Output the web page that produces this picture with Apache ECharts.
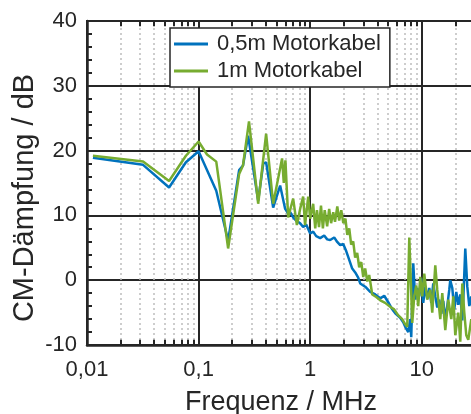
<!DOCTYPE html>
<html>
<head>
<meta charset="utf-8">
<title>CM-Dämpfung</title>
<script src="https://cdn.jsdelivr.net/npm/echarts@6/dist/echarts.min.js"></script>
<style>
  html, body { margin: 0; padding: 0; background: #fff; }
  #chart { width: 471px; height: 414px; }
</style>
</head>
<body>
<div id="chart"></div>
<script>
// 0,5m Motorkabel: Frequenz (MHz) / Dämpfung (dB)
const freqShort = [0.0113, 0.0318, 0.0544, 0.077, 0.1, 0.144, 0.184, 0.231, 0.25, 0.278,
  0.342, 0.38, 0.403, 0.466, 0.538, 0.597, 0.635, 0.662, 0.704, 0.749,
  0.813, 0.865, 0.921, 1.0, 1.064, 1.132, 1.229, 1.335, 1.421, 1.511,
  1.642, 1.747, 1.858, 1.977, 2.103, 2.192, 2.381, 2.533, 2.694, 2.808,
  3.114, 3.453, 3.828, 4.245, 4.61, 5.008, 5.438, 5.785, 6.414, 6.825,
  7.112, 7.568, 7.887, 8.05, 8.39, 8.74, 9.11, 9.5, 9.9, 10.31,
  10.75, 11.2, 11.68, 12.17, 12.68, 13.22, 13.77, 14.35, 14.96, 15.59,
  16.25, 16.93, 17.64, 18.01, 18.77, 19.56, 20.39, 21.25, 22.14, 23.08,
  23.56, 24.55, 25.59, 26.67, 27.79, 28.96];
const dampShort = [18.9, 17.8, 14.3, 18.2, 19.9, 13.8, 6.1, 17.0, 17.7, 22.3,
  12.3, 18.0, 18.2, 11.2, 14.6, 11.0, 10.3, 10.5, 9.7, 9.2,
  8.8, 8.2, 8.6, 7.2, 7.5, 6.8, 6.5, 6.9, 6.3, 6.2,
  6.6, 5.9, 5.4, 5.6, 4.5, 3.6, 1.8, 1.2, 0.4, -0.5,
  -1.0, -1.8, -2.2, -2.8, -2.4, -3.4, -4.5, -5.1, -5.8, -6.5,
  -7.2, -8.0, -6.0, -8.8, 2.6, -3.0, -1.2, -2.5, 0.3, -3.5,
  -1.0, -2.8, -1.2, -3.5, -0.5, -2.5, -4.2, -3.0, -5.2, -3.2,
  -6.0, -4.0, -1.5, 0.0, -1.2, -4.5, -1.8, -3.8, -2.2, -6.2,
  -3.0, 4.9, -1.0, -4.0, -2.5, -5.5];

// 1m Motorkabel
const freqLong = [0.0113, 0.0318, 0.0544, 0.077, 0.1, 0.119, 0.144, 0.184, 0.231, 0.25,
  0.283, 0.342, 0.403, 0.466, 0.56, 0.58, 0.6, 0.635, 0.704, 0.76,
  0.813, 0.865, 0.9, 0.96, 1.0, 1.064, 1.11, 1.15, 1.2, 1.25,
  1.3, 1.35, 1.42, 1.48, 1.54, 1.61, 1.67, 1.75, 1.82, 1.9,
  1.98, 2.07, 2.15, 2.24, 2.33, 2.43, 2.53, 2.64, 2.75, 2.87,
  2.99, 3.11, 3.25, 3.38, 3.6, 3.91, 4.25, 4.7, 5.21, 5.66,
  6.14, 6.68, 7.11, 7.41, 7.73, 8.05, 8.22, 8.56, 8.93, 9.3,
  9.69, 10.1, 10.53, 11.2, 11.92, 12.42, 13.22, 13.77, 14.06, 14.66,
  15.27, 16.25, 17.29, 18.39, 19.16, 19.97, 21.25, 22.14, 23.08, 24.05,
  25.07, 26.12, 27.79, 29.57];
const dampLong = [19.2, 18.3, 15.3, 19.2, 21.4, 19.4, 18.3, 4.9, 16.4, 17.7,
  24.5, 11.8, 22.6, 11.8, 18.8, 15.0, 18.5, 9.7, 12.6, 8.5,
  11.0, 12.9, 8.5, 12.9, 9.5, 11.8, 8.0, 10.8, 8.2, 11.5,
  8.0, 10.8, 8.3, 11.0, 8.8, 10.5, 9.0, 11.4, 9.2, 10.8,
  8.8, 9.5, 7.0, 8.0, 5.5, 6.0, 3.5, 4.2, 2.0, 2.8,
  0.5, 1.8, -0.2, 0.8, -2.2, -2.6, -3.1, -3.5, -4.1, -4.5,
  -5.4, -6.0, -6.8, -7.2, 6.6, -2.0, -6.6, -2.5, -0.8, -4.0,
  0.5, -2.5, 1.0, -3.0, -1.5, -5.0, 2.3, -1.5, -3.0, -6.0,
  -2.0, -7.7, -3.0, -6.0, -2.5, -8.5, -5.0, -9.5, -0.5, -5.0,
  -8.5, -9.2, -6.0, -9.0];

// Nebenteilung der log. Achse (2..9 je Dekade)
const minorFreqs = [0.02, 0.03, 0.04, 0.05, 0.06, 0.07, 0.08, 0.09,
  0.2, 0.3, 0.4, 0.5, 0.6, 0.7, 0.8, 0.9,
  2, 3, 4, 5, 6, 7, 8, 9, 20];
const yMin = -10;
const yMax = 40;
const yStep = 10;

const ink = '#262626';
const font = 'Liberation Sans, Arial, Helvetica, sans-serif';

function pairs (xs, ys) {
  return xs.map((x, i) => [x, ys[i]]);
}

function isDecade (v) {
  const l = Math.log10(v);
  return Math.abs(l - Math.round(l)) < 1e-6;
}

const chart = echarts.init(document.getElementById('chart'), null, { renderer: 'canvas' });

const option = {
  animation: false,
  backgroundColor: '#fff',
  grid: {
    left: 87, right: -4, top: 21, bottom: 69,
    outerBoundsMode: 'none',
    containLabel: false,
    show: true,
    borderColor: ink,
    borderWidth: 2,
    backgroundColor: 'transparent'
  },
  // y-Achsentitel (leicht unter der Achsenmitte wie im Original)
  graphic: [{
    type: 'text',
    x: 25,
    y: 198,
    rotation: Math.PI / 2,
    silent: true,
    style: {
      text: 'CM-Dämpfung / dB',
      fill: ink,
      font: '29px ' + font,
      align: 'center',
      verticalAlign: 'middle'
    }
  }],
  legend: {
    orient: 'vertical',
    left: 170,
    top: 28,
    z: 10,
    padding: [5, 9, 5, 4],
    itemGap: 5,
    itemWidth: 34,
    itemHeight: 3,
    icon: 'rect',
    backgroundColor: '#fff',
    borderColor: ink,
    borderWidth: 1.5,
    borderRadius: 0,
    textStyle: { color: ink, fontSize: 22, fontFamily: font, padding: [0, 0, 0, 4] },
    data: ['0,5m Motorkabel', '1m Motorkabel']
  },
  xAxis: {
    type: 'log',
    logBase: 10,
    min: 0.01,
    max: 30,
    interval: 1,
    name: 'Frequenz / MHz',
    nameLocation: 'middle',
    nameGap: 44,
    nameTextStyle: { color: ink, fontSize: 27, fontFamily: font },
    axisLine: { show: true, onZero: false, lineStyle: { color: ink, width: 2.5 } },
    axisTick: { show: false },
    axisLabel: {
      color: ink,
      fontSize: 22,
      fontFamily: font,
      margin: 14,
      showMaxLabel: false,
      formatter: function (v) {
        if (!isDecade(v)) return '';
        return String(Number(v.toPrecision(6))).replace('.', ',');
      }
    },
    splitLine: { show: true, lineStyle: { color: ink, width: 2 } }
  },
  yAxis: {
    type: 'value',
    min: yMin,
    max: yMax,
    interval: yStep,
    axisLine: { show: true, lineStyle: { color: ink, width: 2.5 } },
    axisTick: { show: true, inside: true, length: 6, lineStyle: { color: ink, width: 2 } },
    minorTick: { show: true, splitNumber: 5, length: 5, lineStyle: { color: ink, width: 2 } },
    axisLabel: { color: ink, fontSize: 22, fontFamily: font, margin: 10 },
    splitLine: { show: true, lineStyle: { color: ink, width: 2 } }
  },
  series: [
    {
      // gepunktete Nebengitterlinien
      type: 'line',
      data: [],
      silent: true,
      z: 1,
      markLine: {
        z: 1,
        silent: true,
        symbol: 'none',
        label: { show: false },
        lineStyle: { color: '#bdbdbd', type: [2, 3], width: 1.5 },
        data: minorFreqs.map(f => ({ xAxis: f }))
      }
    },
    {
      // kurze Teilstriche unten und oben
      type: 'line',
      data: [],
      silent: true,
      z: 4,
      markLine: {
        z: 4,
        silent: true,
        symbol: 'none',
        label: { show: false },
        lineStyle: { color: ink, type: 'solid', width: 2 },
        data: minorFreqs.flatMap(f => [
          [{ coord: [f, yMin] }, { coord: [f, yMin + 0.8] }],
          [{ coord: [f, yMax] }, { coord: [f, yMax - 0.8] }]
        ])
      }
    },
    {
      name: '0,5m Motorkabel',
      type: 'line',
      z: 2,
      symbol: 'none',
      color: '#0072BD',
      lineStyle: { color: '#0072BD', width: 2.5 },
      data: pairs(freqShort, dampShort)
    },
    {
      name: '1m Motorkabel',
      type: 'line',
      z: 3,
      symbol: 'none',
      color: '#77AC30',
      lineStyle: { color: '#77AC30', width: 2.5 },
      data: pairs(freqLong, dampLong)
    }
  ]
};

chart.setOption(option);
</script>
</body>
</html>
